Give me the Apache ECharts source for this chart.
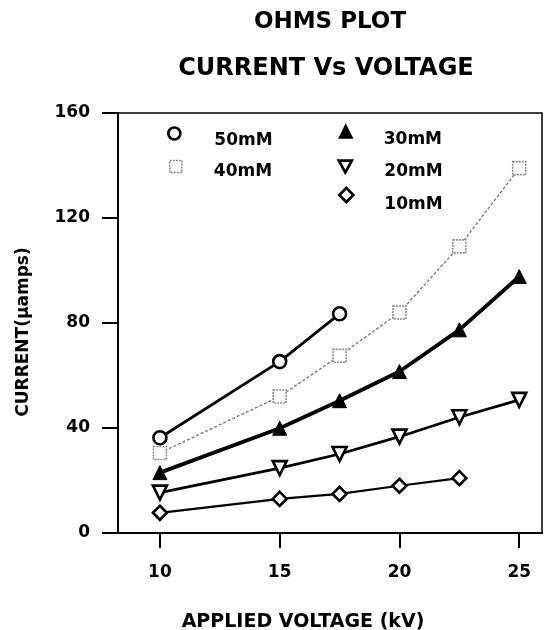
<!DOCTYPE html>
<html>
<head>
<meta charset="utf-8">
<script src="https://cdn.jsdelivr.net/npm/echarts@6/dist/echarts.min.js"></script>
<style>html,body{margin:0;padding:0;background:#fff}#c{width:545px;height:630px}</style>
</head>
<body>
<div id="c"></div>
<script>
// ---- data ----
var voltages = [10, 15, 17.5, 20, 22.5, 25];
var c50mM = [36.3, 65.3, 83.5];
var c40mM = [30.5, 52, 67.5, 84, 109.2, 139];
var c30mM = [23, 39.9, 50.4, 61.5, 77.4, 97.7];
var c20mM = [15.4, 24.7, 30.1, 36.7, 44.1, 50.7];
var c10mM = [7.7, 13, 14.9, 18, 20.9];
var xTicks = [10, 15, 20, 25];
var seriesNames = ['50mM', '40mM', '30mM', '20mM', '10mM'];

function pairs(vals) { return vals.map(function (v, i) { return [voltages[i], v]; }); }

var FONT = 'DejaVu Sans';
var downTri = 'path://M0,0 L10,0 L5,9 Z';
var hollow = {color: '#fff', borderColor: '#000', borderWidth: 2.6};
var hollowLeg = {color: '#fff', borderColor: '#000', borderWidth: 2.7};
var squareStyle = {color: '#fff', borderColor: '#8c8c8c', borderWidth: 1.6, borderType: [2, 1]};

// icon centred at (cx, cy); text pushed down by lh/2 through an empty first line
function legendAt(name, icon, cx, cy, size, style, lh, gapLeft) {
  return {
    orient: 'vertical', left: cx - size / 2, top: cy - lh, padding: 0,
    itemWidth: size, itemHeight: size, selectedMode: false,
    formatter: '\n{name}',
    textStyle: {fontFamily: FONT, fontWeight: 'bold', fontSize: 17, color: '#000', lineHeight: lh,
                padding: [0, 0, 0, gapLeft - size / 2 - 5]},
    data: [{name: name, icon: icon, itemStyle: style}]
  };
}

var chart = echarts.init(document.getElementById('c'), null, {renderer: 'canvas'});
chart.setOption({
  animation: false,
  backgroundColor: '#fff',
  title: [
    {text: 'OHMS PLOT', left: 330, top: 11, padding: 0, textAlign: 'center',
     textStyle: {fontFamily: FONT, fontWeight: 'bold', fontSize: 23, color: '#000'}},
    {text: 'CURRENT Vs VOLTAGE', left: 326, top: 57, padding: 0, textAlign: 'center',
     textStyle: {fontFamily: FONT, fontWeight: 'bold', fontSize: 24, color: '#000'}}
  ],
  legend: [
    legendAt(seriesNames[0], 'circle', 173, 132, 12, hollowLeg, 14, 40),
    legendAt(seriesNames[1], 'rect', 175, 163, 12, squareStyle, 10, 38),
    legendAt(seriesNames[2], 'triangle', 345, 131, 13, {color: '#000', borderColor: '#000', borderWidth: 1.5}, 16, 38),
    legendAt(seriesNames[3], downTri, 344, 163, 13, hollowLeg, 10, 39),
    legendAt(seriesNames[4], 'diamond', 345, 195, 14, hollowLeg, 20, 38)
  ],
  grid: {left: 118, right: 3, top: 113, bottom: 97, outerBoundsMode: 'none', containLabel: false,
         show: true, borderColor: '#000', borderWidth: 1.5, backgroundColor: '#fff'},
  xAxis: {
    type: 'value', min: 8.25, max: 25.95,
    name: 'APPLIED VOLTAGE (kV)', nameLocation: 'middle', nameGap: 80,
    nameTextStyle: {fontFamily: FONT, fontWeight: 'bold', fontSize: 19, color: '#000', padding: [0, 54, 0, 0]},
    axisLine: {show: true, lineStyle: {color: '#000', width: 2}},
    axisTick: {show: true, inside: false, length: 15, customValues: xTicks, lineStyle: {color: '#000', width: 2}},
    axisLabel: {customValues: xTicks, margin: 31, fontFamily: FONT, fontWeight: 'bold', fontSize: 17, color: '#000'},
    splitLine: {show: false}
  },
  yAxis: {
    type: 'value', min: 0, max: 160, interval: 40,
    name: 'CURRENT(\u03bcamps)', nameLocation: 'middle', nameGap: 86, nameRotate: 90,
    nameTextStyle: {fontFamily: FONT, fontWeight: 'bold', fontSize: 17, color: '#000', padding: [0, 18, 0, 0]},
    axisLine: {show: true, lineStyle: {color: '#000', width: 2}},
    axisTick: {show: true, inside: false, length: 16, lineStyle: {color: '#000', width: 2}},
    axisLabel: {margin: 28, fontFamily: FONT, fontWeight: 'bold', fontSize: 17, color: '#000'},
    splitLine: {show: false}
  },
  series: [
    {name: seriesNames[0], type: 'line', data: pairs(c50mM), symbol: 'circle', symbolSize: 13,
     lineStyle: {color: '#000', width: 2.8}, itemStyle: hollow, z: 5},
    {name: seriesNames[1], type: 'line', data: pairs(c40mM), symbol: 'rect', symbolSize: 13,
     lineStyle: {color: '#7a7a7a', width: 1.4, type: [3, 2]}, itemStyle: squareStyle, z: 3},
    {name: seriesNames[2], type: 'line', data: pairs(c30mM), symbol: 'triangle', symbolSize: 14,
     lineStyle: {color: '#000', width: 3.8}, itemStyle: {color: '#000', borderColor: '#000', borderWidth: 1}, z: 4},
    {name: seriesNames[3], type: 'line', data: pairs(c20mM), symbol: 'triangle', symbolRotate: 180, symbolSize: 14,
     lineStyle: {color: '#000', width: 2.7}, itemStyle: hollow, z: 4},
    {name: seriesNames[4], type: 'line', data: pairs(c10mM), symbol: 'diamond', symbolSize: 14,
     lineStyle: {color: '#000', width: 2.2}, itemStyle: hollow, z: 4}
  ]
});
</script>
</body>
</html>
